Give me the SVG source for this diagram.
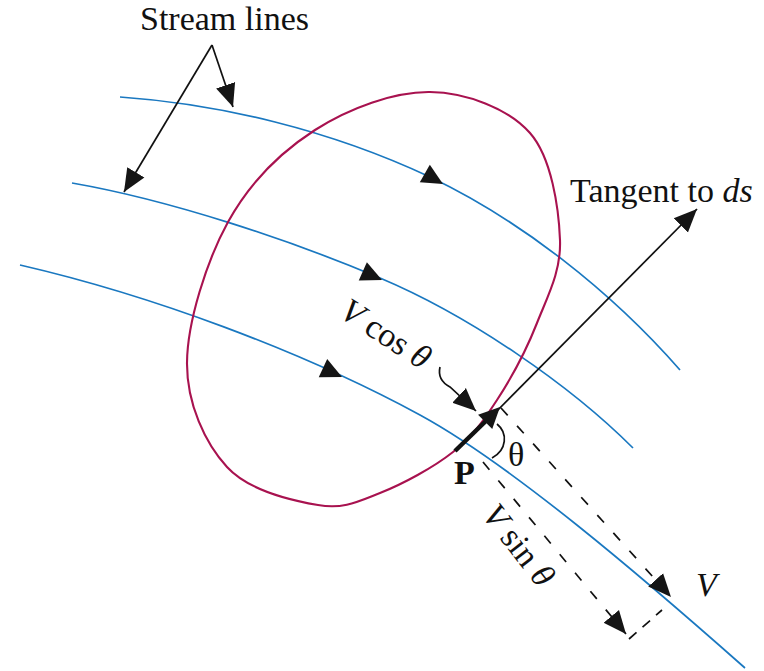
<svg xmlns="http://www.w3.org/2000/svg" xmlns:xlink="http://www.w3.org/1999/xlink" width="764" height="671" viewBox="0 0 764 671">
<style>
  .stream { fill: none; stroke: #1a78c0; stroke-width: 1.7; }
  .cv { fill: none; stroke: #a8124f; stroke-width: 2.1; }
  .ln { fill: none; stroke: #111; stroke-width: 1.7; }
  .dash { fill: none; stroke: #111; stroke-width: 1.7; stroke-dasharray: 10 14; }
  .lbl { font-family: "Liberation Serif", "Times New Roman", serif; font-size: 34px; fill: #111; }
  .it { font-style: italic; }
  .ah { fill: #151515; }
</style>
<defs>
  <path id="ah" d="M0,0 L-21,-10 L-21,10 Z"/>
  <marker id="arr" markerUnits="userSpaceOnUse" markerWidth="24" markerHeight="22" viewBox="0 0 24 22" refX="23" refY="11" orient="auto">
    <path d="M0,1 L23,11 L0,21 Z" fill="#151515"/>
  </marker>
</defs>
<rect width="764" height="671" fill="#fff"/>

<g id="stream-lines">
  <path class="stream" d="M120,97 C220,104 330,130 430,177 C520,220 610,290 680,370"/>
  <path class="stream" d="M72,183 C170,200 290,240 380,278 C470,316 570,385 633,448"/>
  <path class="stream" d="M20,265 C150,295 300,350 420,415 C510,464 640,575 745,668"/>
  <use href="#ah" class="ah" transform="translate(443,184) rotate(30)"/>
  <use href="#ah" class="ah" transform="translate(382,280) rotate(24)"/>
  <use href="#ah" class="ah" transform="translate(342,377) rotate(25)"/>
</g>

<g id="control-surface">
  <path class="cv" d="M430,92 C465.8,92.5 508.3,108.3 530,133 C551.7,157.7 558.8,208.3 560,240 C561.2,271.7 547.5,296.3 537,323 C526.5,349.7 511,378.5 497,400 C483,421.5 472.5,436.5 453,452 C433.5,467.5 402.5,484.2 380,493 C357.5,501.8 343.5,509.3 318,505 C292.5,500.7 248.8,490.7 227,467 C205.2,443.3 186.8,403.8 187,363 C187.2,322.2 206.7,260.8 228,222 C249.3,183.2 281.3,151.7 315,130 C348.7,108.3 394.2,91.5 430,92 Z"/>
</g>

<g id="connectors">
  <path class="ln" d="M212,45 L233,107" marker-end="url(#arr)"/>
  <path class="ln" d="M212,45 L124,192" marker-end="url(#arr)"/>
  <path class="ln" d="M487,421 L697,209" marker-end="url(#arr)"/>
  <path class="ln" d="M440,367 Q437,380 450,387 L476,411" marker-end="url(#arr)"/>
  <path fill="none" stroke="#111" stroke-width="4.5" d="M455,451 L489,418"/>
  <use href="#ah" class="ah" transform="translate(500,407) rotate(-45)"/>
  <path class="ln" d="M497,424 C508,433 507,450 492,458"/>
  <path class="dash" d="M501,408 L671,597" marker-end="url(#arr)"/>
  <path class="dash" d="M483,462 L626,634" marker-end="url(#arr)"/>
  <path class="ln" stroke-dasharray="10 8" d="M629,639 L662,610"/>
</g>

<g id="labels">
  <text class="lbl" x="140" y="30" font-size="35">Stream lines</text>
  <text class="lbl" x="570" y="202">Tangent to <tspan class="it">ds</tspan></text>
  <text class="lbl" transform="translate(338,316) rotate(33)"><tspan class="it">V</tspan> cos <tspan class="it">θ</tspan></text>
  <text class="lbl" transform="translate(481,515) rotate(52)"><tspan class="it">V</tspan> sin <tspan class="it">θ</tspan></text>
  <text class="lbl" x="508" y="466" font-size="32">θ</text>
  <text class="lbl" x="454" y="484" font-size="32" font-weight="bold">P</text>
  <text class="lbl it" x="696" y="596">V</text>
</g>
</svg>
